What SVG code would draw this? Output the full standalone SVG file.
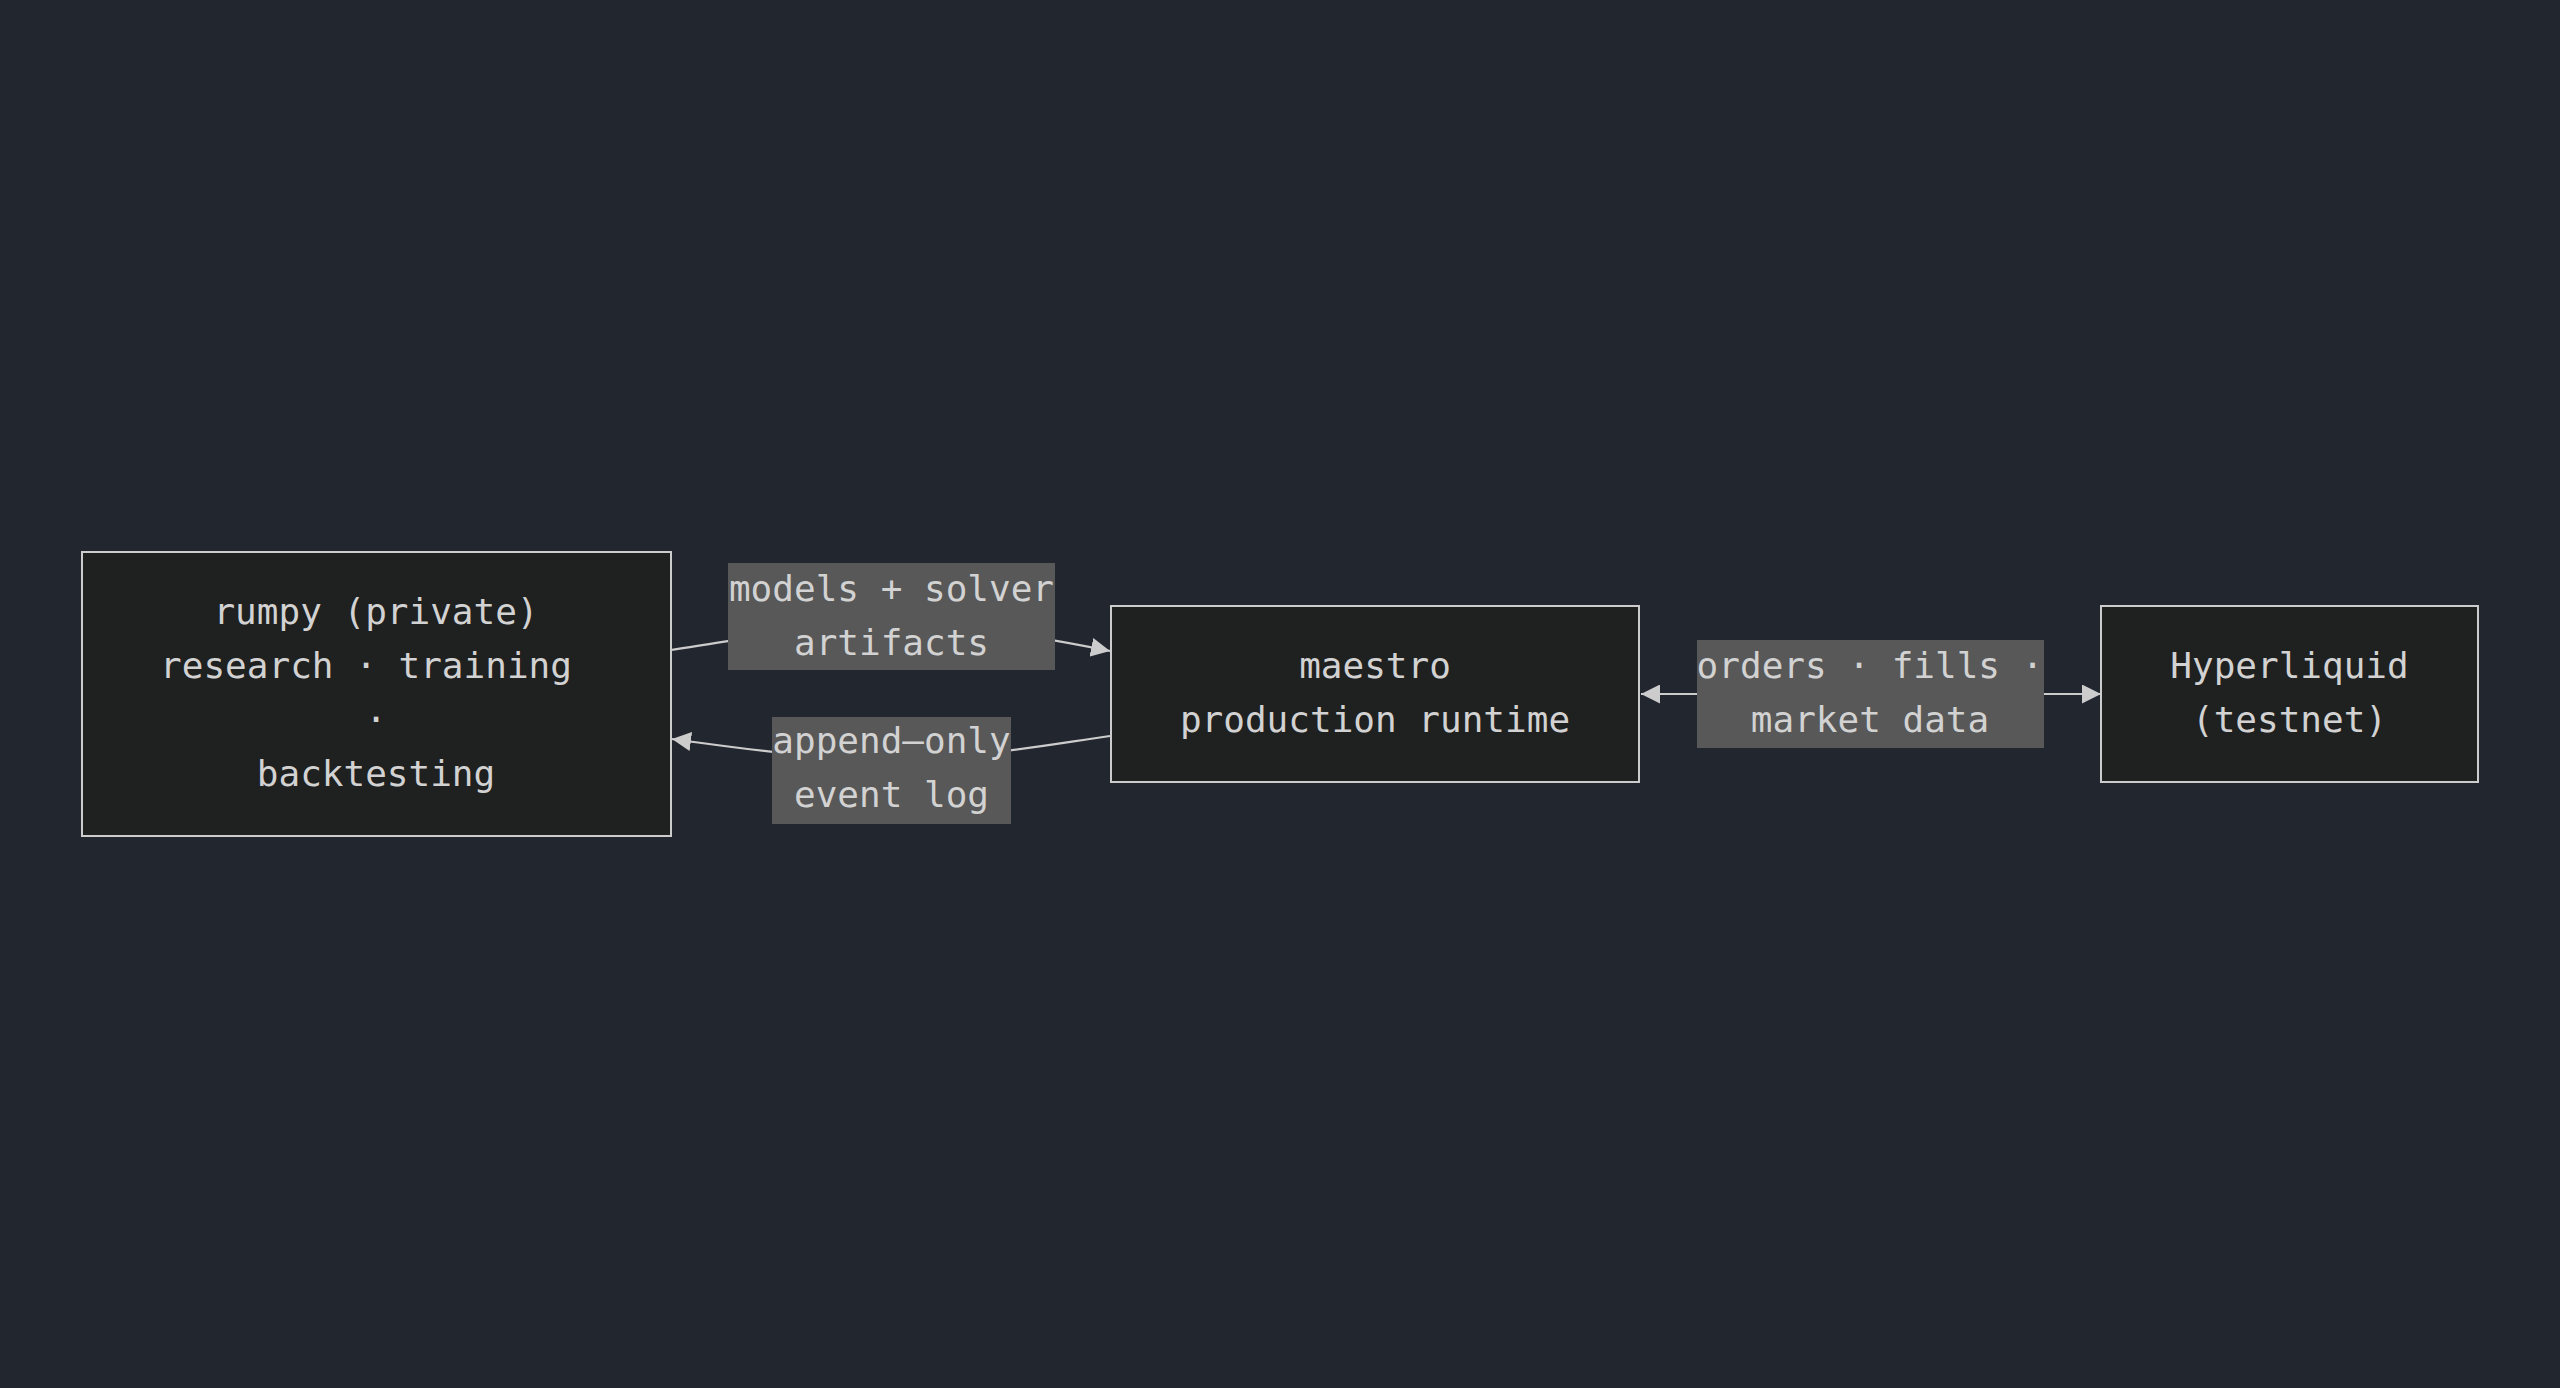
<svg xmlns="http://www.w3.org/2000/svg" width="2560" height="1388" viewBox="0 0 2560 1388">
<defs>
<marker id="arrow" viewBox="0 0 10 10" refX="10" refY="5" markerUnits="userSpaceOnUse" markerWidth="19" markerHeight="19" orient="auto-start-reverse">
<path d="M0,0 L10,5 L0,10 z" fill="#cccccc"/>
</marker>
<style>
.node rect{fill:#1f2020;stroke:#cccccc;stroke-width:2}
.lbl rect{fill:#585858}
text{font-family:"DejaVu Sans Mono","Liberation Mono",monospace;font-size:36px;fill:#d2d2d2;text-anchor:middle}
.edge{fill:none;stroke:#cccccc;stroke-width:2.2}
</style>
</defs>
<rect x="0" y="0" width="2560" height="1388" fill="#22262e"/>
<g id="connectors">
<path class="edge" d="M671,650 C740,640 800,626 891,626 C980,626 1040,637 1110,651" marker-end="url(#arrow)"/>
<path class="edge" d="M1110,736 C1040,746 980,758 891,758 C800,758 740,748 672,739" marker-end="url(#arrow)"/>
<path class="edge" d="M1641,694 L2101,694" marker-start="url(#arrow)" marker-end="url(#arrow)"/>
</g>
<g id="label-models" class="lbl">
<rect x="728" y="563" width="327" height="107"/>
<text x="891.5" y="601">models + solver</text>
<text x="891.5" y="655">artifacts</text>
</g>
<g id="label-append" class="lbl">
<rect x="772" y="717" width="239" height="107"/>
<text x="891.5" y="753">append–only</text>
<text x="891.5" y="807">event log</text>
</g>
<g id="label-orders" class="lbl">
<rect x="1697" y="640" width="347" height="108"/>
<text x="1870" y="678">orders · fills ·</text>
<text x="1870" y="732">market data</text>
</g>
<g id="node-rumpy" class="node">
<rect x="82" y="552" width="589" height="284"/>
<text x="376" y="624">rumpy (private)</text>
<text x="366" y="678">research · training</text>
<text x="376" y="732">·</text>
<text x="376" y="786">backtesting</text>
</g>
<g id="node-maestro" class="node">
<rect x="1111" y="606" width="528" height="176"/>
<text x="1375" y="678">maestro</text>
<text x="1375" y="732">production runtime</text>
</g>
<g id="node-hyperliquid" class="node">
<rect x="2101" y="606" width="377" height="176"/>
<text x="2289.5" y="678">Hyperliquid</text>
<text x="2289.5" y="732">(testnet)</text>
</g>
</svg>
